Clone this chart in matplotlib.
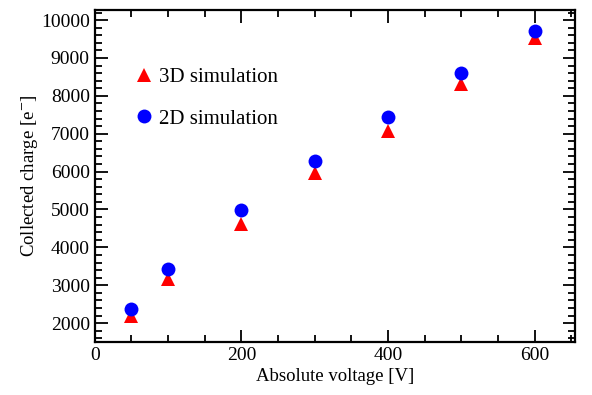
import matplotlib
matplotlib.use("Agg")
import matplotlib.pyplot as plt
from matplotlib.ticker import MultipleLocator

plt.rcParams['font.family'] = ['Liberation Serif', 'DejaVu Serif']
plt.rcParams['mathtext.fontset'] = 'stix'

voltage = [50, 100, 200, 300, 400, 500, 600]
charge_3d = [2190, 3160, 4630, 5970, 7060, 8305, 9520]
charge_2d = [2375, 3440, 4995, 6285, 7455, 8595, 9710]

fig = plt.figure(figsize=(5.92, 3.95), dpi=100)
ax = fig.add_axes([0.160, 0.134, 0.811, 0.841])

ax.plot(voltage, charge_3d, linestyle='none', marker='^', color='red',
        markersize=10, markeredgewidth=0, label='3D simulation')
ax.plot(voltage, charge_2d, linestyle='none', marker='o', color='blue',
        markersize=10, markeredgewidth=0, label='2D simulation')

ax.set_xlim(0, 655)
ax.set_ylim(1500, 10270)
ax.xaxis.set_major_locator(MultipleLocator(200))
ax.xaxis.set_minor_locator(MultipleLocator(50))
ax.yaxis.set_major_locator(MultipleLocator(1000))
ax.yaxis.set_minor_locator(MultipleLocator(200))

ax.tick_params(which='both', direction='in', top=True, right=True, width=1.3,
               labelsize=14)
ax.tick_params(which='major', length=9)
ax.tick_params(which='minor', length=5)
for s in ax.spines.values():
    s.set_linewidth(1.6)

ax.set_xlabel('Absolute voltage [V]', fontsize=13.5, labelpad=3)
ax.set_ylabel('Collected charge [e$^{-}$]', fontsize=13.5, labelpad=1)

ax.legend(loc='upper left', bbox_to_anchor=(0.08, 0.826), frameon=False,
          fontsize=15, handlelength=1.0, handletextpad=0.25,
          labelspacing=1.05, borderaxespad=0, borderpad=0)

fig.savefig('out.png', dpi=100)
